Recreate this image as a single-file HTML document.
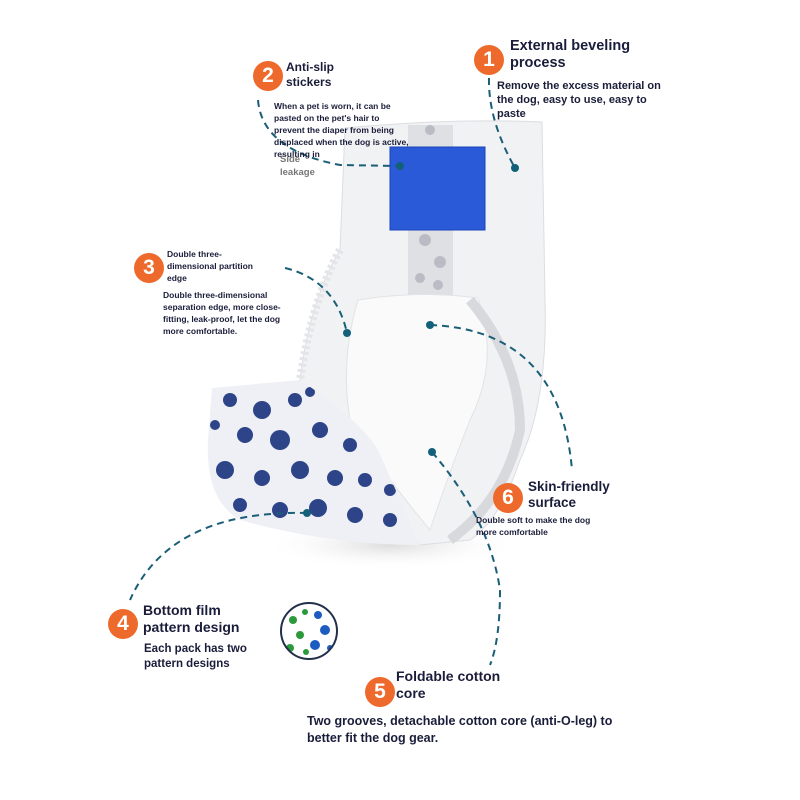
<!DOCTYPE html>
<html><head><meta charset="utf-8"><style>
body{margin:0;background:#fff;}
#c{position:relative;width:800px;height:800px;overflow:hidden;font-family:"Liberation Sans",sans-serif;}
.t{position:absolute;color:#1a1d3a;font-weight:bold;line-height:1.2;}
.n{position:absolute;width:30px;height:30px;border-radius:50%;background:#ee6a2c;color:#fff;font:bold 21px/30px "Liberation Sans",sans-serif;text-align:center;}
</style></head><body><div id="c">
<svg width="800" height="800" style="position:absolute;left:0;top:0">
<defs>
<radialGradient id="sh" cx="50%" cy="50%" r="50%"><stop offset="0" stop-color="#ddd"/><stop offset="1" stop-color="#fff" stop-opacity="0"/></radialGradient>
<clipPath id="fc"><path d="M212,388 L300,380 Q360,420 378,450 L420,545 Q330,545 240,520 Q205,500 208,440 Z"/></clipPath>
<clipPath id="pc"><circle cx="309" cy="631" r="28"/></clipPath>
</defs>
<ellipse cx="390" cy="545" rx="130" ry="25" fill="url(#sh)"/>
<path d="M345,128 Q450,118 542,122 L545,300 Q548,400 520,460 Q500,520 470,540 L420,545 L300,380 Q310,300 340,250 Z" fill="#f1f2f4" stroke="#dcdde2"/>
<path d="M340,250 Q312,300 300,380" fill="none" stroke="#e4e5e9" stroke-width="8" stroke-dasharray="3,3"/>
<rect x="408" y="125" width="45" height="170" fill="#dfe0e4"/>
<g fill="#b9bcc4">
<circle cx="425" cy="240" r="6"/><circle cx="440" cy="262" r="6"/><circle cx="420" cy="278" r="5"/><circle cx="438" cy="285" r="5"/><circle cx="430" cy="130" r="5"/></g>
<rect x="390" y="147" width="95" height="83" fill="#2a5ad8" stroke="#1a44b8"/>
<path d="M358,300 Q420,290 478,298 Q500,360 470,420 Q450,470 430,530 Q380,470 350,420 Q340,360 358,300 Z" fill="#fafafa" stroke="#e2e3e6"/>
<path d="M470,300 Q520,360 520,430 Q505,500 450,540" fill="none" stroke="#d8d9dd" stroke-width="10"/>
<path d="M212,388 L300,380 Q360,420 378,450 L420,545 Q330,545 240,520 Q205,500 208,440 Z" fill="#eef0f5"/>
<g clip-path="url(#fc)" fill="#2e4488">
<circle cx="230" cy="400" r="7"/><circle cx="262" cy="410" r="9"/><circle cx="295" cy="400" r="7"/><circle cx="245" cy="435" r="8"/><circle cx="280" cy="440" r="10"/><circle cx="320" cy="430" r="8"/><circle cx="350" cy="445" r="7"/><circle cx="225" cy="470" r="9"/><circle cx="262" cy="478" r="8"/><circle cx="300" cy="470" r="9"/><circle cx="335" cy="478" r="8"/><circle cx="365" cy="480" r="7"/><circle cx="240" cy="505" r="7"/><circle cx="280" cy="510" r="8"/><circle cx="318" cy="508" r="9"/><circle cx="355" cy="515" r="8"/><circle cx="390" cy="520" r="7"/><circle cx="390" cy="490" r="6"/><circle cx="310" cy="392" r="5"/><circle cx="215" cy="425" r="5"/></g>
<g clip-path="url(#pc)"><rect x="280" y="602" width="58" height="58" fill="#fff"/>
<g fill="#2a9a3c"><circle cx="293" cy="620" r="4"/><circle cx="300" cy="635" r="4"/><circle cx="290" cy="648" r="4"/><circle cx="305" cy="612" r="3"/><circle cx="306" cy="652" r="3"/></g>
<g fill="#1c5cc0"><circle cx="318" cy="615" r="4"/><circle cx="325" cy="630" r="5"/><circle cx="315" cy="645" r="5"/><circle cx="330" cy="648" r="3"/></g></g>
<circle cx="309" cy="631" r="28" fill="none" stroke="#22304a" stroke-width="2"/>
<g fill="none" stroke="#1b5e78" stroke-width="2" stroke-dasharray="7,5">
<path d="M489,78 Q488,120 515,168"/>
<path d="M258,100 Q262,150 340,165 L400,166"/>
<path d="M285,268 Q335,280 347,333"/>
<path d="M430,325 Q560,330 572,470"/>
<path d="M432,452 Q490,520 500,590 Q500,640 490,665"/>
<path d="M307,513 Q170,510 130,600"/>
</g>
<g fill="#13607a"><circle cx="515" cy="168" r="4"/><circle cx="400" cy="166" r="4"/><circle cx="347" cy="333" r="4"/><circle cx="430" cy="325" r="4"/><circle cx="432" cy="452" r="4"/><circle cx="307" cy="513" r="4"/></g>
</svg>
<div class="n" style="left:474px;top:45px">1</div>
<div class="t" style="left:510px;top:38px;font-size:14.5px">External beveling<br>process</div>
<div class="t" style="left:497px;top:79px;font-size:11px;line-height:14px">Remove the excess material on<br>the dog, easy to use, easy to<br>paste</div>
<div class="n" style="left:253px;top:61px">2</div>
<div class="t" style="left:286px;top:60px;font-size:12px;line-height:15px">Anti-slip<br>stickers</div>
<div class="t" style="left:274px;top:100px;font-size:8.5px;line-height:12px">When a pet is worn, it can be<br>pasted on the pet's hair to<br>prevent the diaper from being<br>displaced when the dog is active,<br>resulting in</div>
<div class="t" style="left:280px;top:153px;font-size:9.5px;line-height:13px;color:#777">Side<br>leakage</div>
<div class="n" style="left:134px;top:253px">3</div>
<div class="t" style="left:167px;top:248px;font-size:8.5px;line-height:12px">Double three-<br>dimensional partition<br>edge</div>
<div class="t" style="left:163px;top:289px;font-size:8.5px;line-height:12px">Double three-dimensional<br>separation edge, more close-<br>fitting, leak-proof, let the dog<br>more comfortable.</div>
<div class="n" style="left:493px;top:483px">6</div>
<div class="t" style="left:528px;top:479px;font-size:13.5px;line-height:16px">Skin-friendly<br>surface</div>
<div class="t" style="left:476px;top:514px;font-size:8.5px;line-height:12px">Double soft to make the dog<br>more comfortable</div>
<div class="n" style="left:108px;top:609px">4</div>
<div class="t" style="left:143px;top:602px;font-size:14px;line-height:17px">Bottom film<br>pattern design</div>
<div class="t" style="left:144px;top:642px;font-size:11.5px;line-height:15px">Each pack has two<br>pattern designs</div>
<div class="n" style="left:365px;top:677px">5</div>
<div class="t" style="left:396px;top:668px;font-size:14px;line-height:17px">Foldable cotton<br>core</div>
<div class="t" style="left:307px;top:713px;font-size:12.5px;line-height:17px">Two grooves, detachable cotton core (anti-O-leg) to<br>better fit the dog gear.</div>
</div></body></html>
